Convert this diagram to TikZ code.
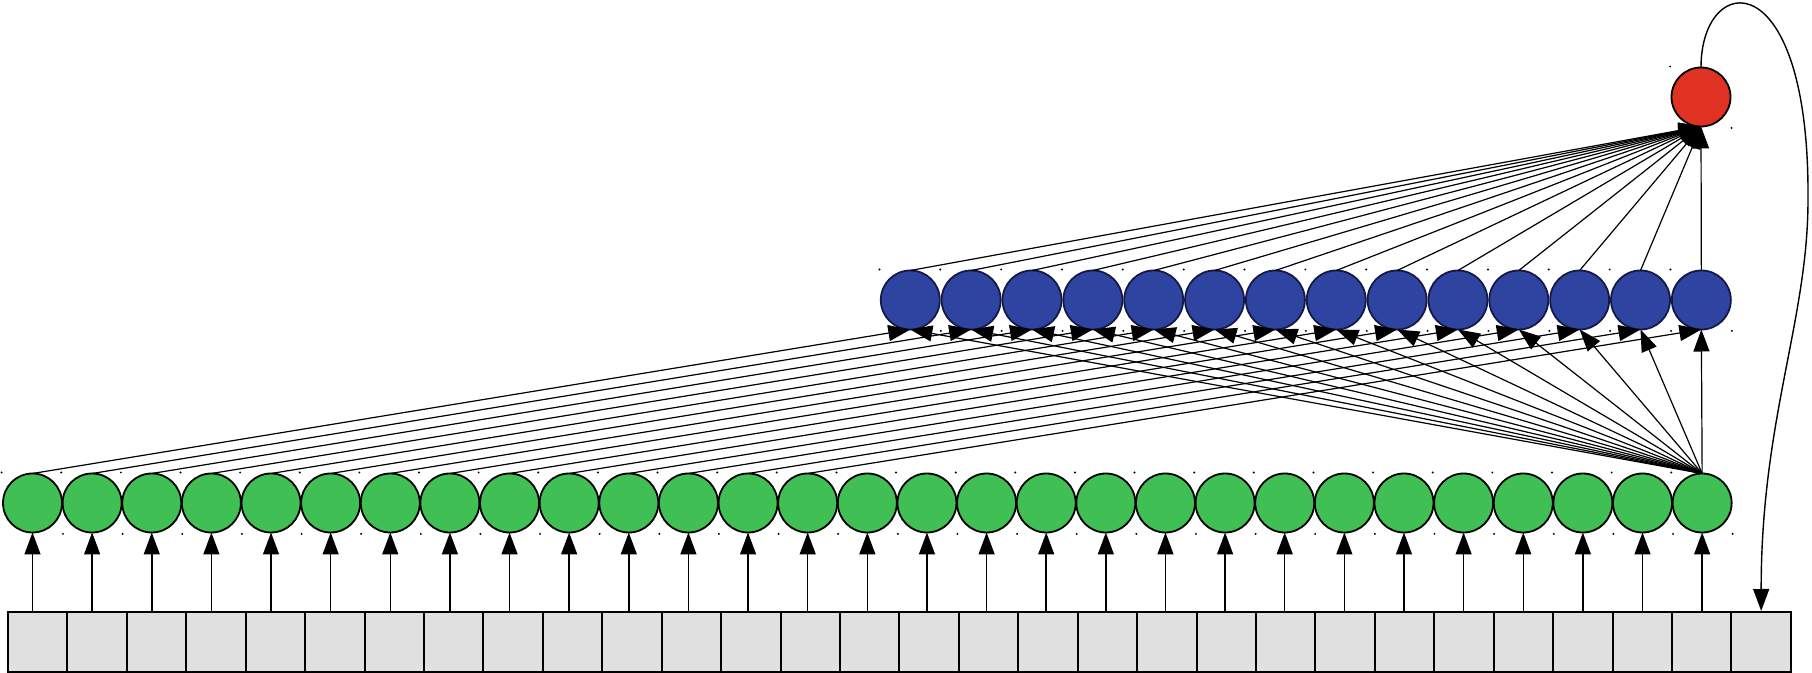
\documentclass[tikz,border=0pt]{standalone}
\usetikzlibrary{arrows.meta}
\definecolor{gfill}{RGB}{64,191,85}
\definecolor{bfill}{RGB}{46,68,160}
\definecolor{bline}{RGB}{20,25,70}
\definecolor{rfill}{RGB}{224,50,34}
\definecolor{boxfill}{RGB}{224,224,224}
\begin{document}
\begin{tikzpicture}[x=0.5pt,y=-0.5pt,
  unit/.style={circle,draw=black,line width=0.9pt,minimum size=29.5pt,inner sep=0pt,outer sep=0pt},
  gunit/.style={unit,fill=gfill},
  bunit/.style={unit,fill=bfill,draw=bline},
  runit/.style={unit,fill=rfill},
  cell/.style={rectangle,draw=black,fill=boxfill,line width=1pt,minimum width=29.7pt,minimum height=30pt,inner sep=0pt},
  upedge/.style={line width=0.75pt,-{Triangle[length=11pt,width=8pt]}},
  link/.style={line width=0.6pt,-{Triangle[length=11pt,width=8pt]}},
  cornerdot/.style={fill=black}
]
\useasboundingbox (0,0) rectangle (1812,673);
% input cells
\foreach \i in {1,...,30}{
  \node[cell] (c\i) at ({8+59.43*(\i-0.5)},642) {};
}
% green layer
\foreach \i in {1,...,29}{
  \node[gunit] (g\i) at ({32.5+59.63*(\i-1)},503) {};
}
% blue layer
\foreach \j in {1,...,14}{
  \node[bunit] (u\j) at ({910.3+60.85*(\j-1)},300) {};
}
% red output
\node[runit] (r) at (1701,97) {};
% corner dots
\foreach \i in {1,...,29}{
  \fill[cornerdot] ([xshift=-0.7pt,yshift=0.5pt]g\i.west |- g\i.north) circle (0.55pt);
  \fill[cornerdot] ([xshift=0.5pt,yshift=-0.7pt]g\i.east |- g\i.south) circle (0.55pt);
}
\foreach \j in {1,...,14}{
  \fill[cornerdot] ([xshift=-0.7pt,yshift=0.5pt]u\j.west |- u\j.north) circle (0.55pt);
  \fill[cornerdot] ([xshift=0.5pt,yshift=-0.7pt]u\j.east |- u\j.south) circle (0.55pt);
}
\fill[cornerdot] ([xshift=-0.7pt,yshift=0.5pt]r.west |- r.north) circle (0.55pt);
\fill[cornerdot] ([xshift=0.5pt,yshift=-0.7pt]r.east |- r.south) circle (0.55pt);
% cells to green
\foreach \i in {1,...,29}{
  \draw[upedge] (c\i.north -| g\i.south) -- (g\i.south);
}
% green i to blue i
\foreach \i in {1,...,14}{
  \draw[link] (g\i.north) -- (u\i.south);
}
% last green to every blue
\foreach \j in {1,...,14}{
  \draw[link] (g29.north) -- (u\j.south);
}
% blue to red
\foreach \j in {1,...,14}{
  \draw[link] (u\j.north) -- (r.south);
}
% feedback loop
\coordinate (loopR) at (1808,200);
\draw[line width=0.7pt,-{Triangle[length=11pt,width=8pt]}]
  (r.north) .. controls (1701,-30) and (1810,-40) .. (loopR)
  .. controls (1808,320) and (1761,420) .. (c30.north);
\end{tikzpicture}
\end{document}
